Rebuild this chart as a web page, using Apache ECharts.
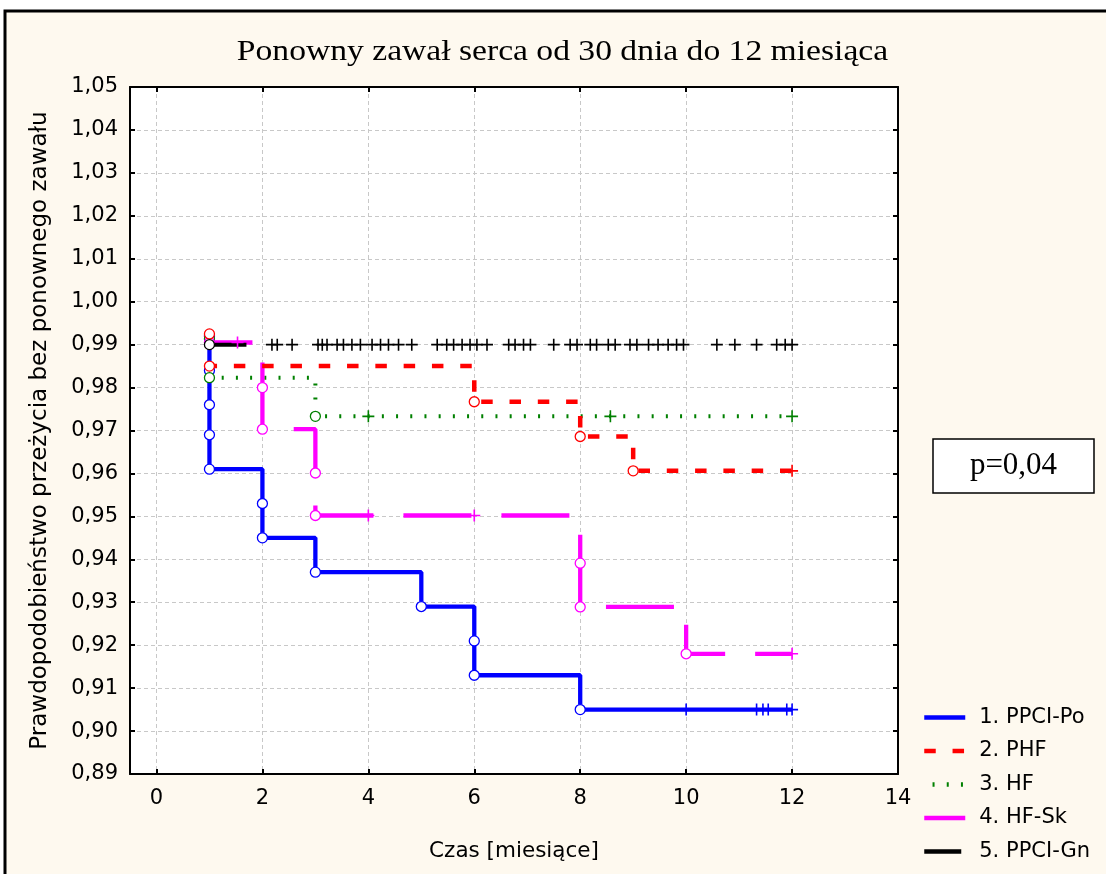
<!DOCTYPE html>
<html>
<head>
<meta charset="utf-8">
<script src="https://cdn.jsdelivr.net/npm/echarts@6/dist/echarts.min.js"></script>
<style>
html,body{margin:0;padding:0;background:#fff;}
#chart{width:1106px;height:874px;}
</style>
</head>
<body>
<div id="chart"></div>
<script>
// ---------------- DATA ----------------
const chartTitle = 'Ponowny zawał serca od 30 dnia do 12 miesiąca';
const xAxisName = 'Czas [miesiące]';
const yAxisName = 'Prawdopodobieństwo przeżycia bez ponownego zawału';
const pValueText = 'p=0,04';
const seriesNames = ['1. PPCI-Po', '2. PHF', '3. HF', '4. HF-Sk', '5. PPCI-Gn'];

// 1. PPCI-Po
const ppciPoTimes = [1, 1, 2, 3, 5, 6, 8, 12];
const ppciPoSurv = [0.992, 0.961, 0.945, 0.937, 0.929, 0.913, 0.905, 0.905];
const ppciPoEventTimes = [1, 1, 1, 1, 1, 2, 2, 3, 5, 6, 6, 8];
const ppciPoEventSurv = [0.992, 0.984, 0.976, 0.969, 0.961, 0.953, 0.945, 0.937, 0.929, 0.921, 0.913, 0.905];
const ppciPoCensorTimes = [10, 11.33, 11.45, 11.55, 11.9, 12];

// 2. PHF
const phfTimes = [1, 1, 6, 8, 9, 12];
const phfSurv = [0.9925, 0.985, 0.9767, 0.9686, 0.9606, 0.9606];
const phfEventTimes = [1, 1, 6, 8, 9];
const phfEventSurv = [0.9925, 0.985, 0.9767, 0.9686, 0.9606];
const phfCensorTimes = [12];

// 3. HF
const hfTimes = [1, 1, 3, 12];
const hfSurv = [0.9913, 0.9823, 0.9733, 0.9733];
const hfEventTimes = [1, 1, 3];
const hfEventSurv = [0.9913, 0.9823, 0.9733];
const hfCensorTimes = [4, 8.57, 12];

// 4. HF-Sk
const hfSkTimes = [1, 2, 3, 8, 10, 12];
const hfSkSurv = [0.9905, 0.9703, 0.9502, 0.9289, 0.918, 0.918];
const hfSkEventTimes = [1, 2, 2, 3, 3, 8, 8, 10];
const hfSkEventSurv = [0.9905, 0.980, 0.9703, 0.9601, 0.9502, 0.9391, 0.9289, 0.918];
const hfSkCensorTimes = [1.53, 4.0, 6.0, 12];

// 5. PPCI-Gn
const ppciGnTimes = [1, 12];
const ppciGnSurv = [0.99, 0.99];
const ppciGnEventTimes = [1];
const ppciGnEventSurv = [0.99];
const ppciGnCensorTimes = [2.18, 2.28, 2.56, 3.05, 3.13, 3.22, 3.41, 3.53, 3.69, 3.85, 4.07, 4.23, 4.38, 4.57,
  4.82, 5.3, 5.48, 5.61, 5.77, 5.92, 6.05, 6.24, 6.65, 6.77, 6.93, 7.06, 7.5, 7.81, 7.94, 8.19, 8.31, 8.53,
  8.66, 8.94, 9.07, 9.29, 9.47, 9.66, 9.82, 9.95, 10.58, 10.92, 11.33, 11.71, 11.87, 12];

// ---------------- HELPERS ----------------
function pairs(t, v) { return t.map((x, i) => [x, v[i]]); }
function survAt(times, surv, t) {
  let s = surv[0];
  for (let i = 0; i < times.length; i++) { if (times[i] <= t) s = surv[i]; }
  return s;
}
function censorPts(times, surv, ct) { return ct.map(t => [t, survAt(times, surv, t)]); }

const colors = ['#0000FF', '#FF0000', '#008000', '#FF00FF', '#000000'];
const dashes = ['solid', [11.5, 16.8], [2, 12.2], [68, 30], [37, 100000]];
const dashOffsets = [0, 0, 5.9, 25, 0];
const widths = [4.3, 4.5, 4, 4.3, 4];
const groups = [
  [ppciPoTimes, ppciPoSurv, ppciPoEventTimes, ppciPoEventSurv, ppciPoCensorTimes],
  [phfTimes, phfSurv, phfEventTimes, phfEventSurv, phfCensorTimes],
  [hfTimes, hfSurv, hfEventTimes, hfEventSurv, hfCensorTimes],
  [hfSkTimes, hfSkSurv, hfSkEventTimes, hfSkEventSurv, hfSkCensorTimes],
  [ppciGnTimes, ppciGnSurv, ppciGnEventTimes, ppciGnEventSurv, ppciGnCensorTimes]
];
const plusPath = 'path://M5.2,0h1.6v5.2h5.2v1.6h-5.2v5.2h-1.6v-5.2h-5.2v-1.6h5.2z';

const sans = "'DejaVu Sans', 'Liberation Sans', Arial, sans-serif";
const serif = "'Liberation Serif', 'Times New Roman', serif";

const series = [];
const drawOrder = [0, 2, 3, 1, 4];
drawOrder.forEach((k, idx) => {
  const g = groups[k];
  series.push({
    name: seriesNames[k], type: 'line', step: 'end', data: pairs(g[0], g[1]),
    symbol: 'none', showSymbol: false, z: 2 + idx * 0.01, animation: false,
    lineStyle: { color: colors[k], width: widths[k], type: dashes[k], dashOffset: dashOffsets[k], cap: 'butt' },
    itemStyle: { color: colors[k] }
  });
});
drawOrder.forEach((k, idx) => {
  const g = groups[k];
  series.push({
    name: 'ev' + k, type: 'scatter', data: pairs(g[2], g[3]), symbol: 'circle', symbolSize: 10,
    z: 4 + idx * 0.01, animation: false, silent: true,
    itemStyle: { color: '#ffffff', borderColor: colors[k], borderWidth: 1.3, opacity: 1 }
  });
  series.push({
    name: 'cs' + k, type: 'scatter', data: censorPts(g[0], g[1], g[4]), symbol: plusPath, symbolSize: 12,
    z: 5, animation: false, silent: true,
    itemStyle: { color: colors[k], opacity: 1 }
  });
});

const commaFmt = v => v.toFixed(2).replace('.', ',');

const option = {
  backgroundColor: 'transparent',
  animation: false,
  legend: {
    data: seriesNames, orient: 'vertical', left: 922, top: 707, itemWidth: 41, itemHeight: 14, itemGap: 12.5,
    padding: 0, selectedMode: false,
    itemStyle: { opacity: 0, color: 'transparent', borderWidth: 0 },
    lineStyle: { width: 4.5 },
    textStyle: { fontFamily: sans, fontSize: 21, color: '#000', padding: [0, 0, 0, 9] }
  },
  grid: { left: 130, right: 208, top: 87, bottom: 100, show: true, backgroundColor: '#ffffff', borderWidth: 0, containLabel: false },
  xAxis: [{
    type: 'value', min: -0.5, max: 14, splitNumber: 7, position: 'bottom',
    name: xAxisName, nameLocation: 'middle', nameGap: 66,
    nameTextStyle: { fontFamily: sans, fontSize: 21.5, color: '#000' },
    axisLine: { show: true, onZero: false, lineStyle: { color: '#000', width: 2 } },
    axisTick: { show: true, inside: true, length: 5, lineStyle: { color: '#000', width: 2 } },
    axisLabel: { fontFamily: sans, fontSize: 21, color: '#000', margin: 14, showMinLabel: false,
      formatter: v => (v < 0 ? '' : String(v)) },
    splitLine: { show: true, lineStyle: { color: '#c8c8c8', width: 1, type: [4, 3] } }
  }, {
    type: 'value', min: -0.5, max: 14, splitNumber: 7, position: 'top',
    axisLine: { show: true, onZero: false, lineStyle: { color: '#000', width: 2 } },
    axisTick: { show: true, inside: true, length: 5, lineStyle: { color: '#000', width: 2 } },
    axisLabel: { show: false }, splitLine: { show: false }
  }],
  yAxis: [{
    type: 'value', min: 0.89, max: 1.05, interval: 0.01, position: 'left',
    name: yAxisName, nameLocation: 'middle', nameGap: 78, nameRotate: 90,
    nameTextStyle: { fontFamily: sans, fontSize: 23, color: '#000' },
    axisLine: { show: true, onZero: false, lineStyle: { color: '#000', width: 2 } },
    axisTick: { show: true, inside: true, length: 5, lineStyle: { color: '#000', width: 2 } },
    axisLabel: { fontFamily: sans, fontSize: 21, color: '#000', margin: 12, formatter: commaFmt },
    splitLine: { show: true, lineStyle: { color: '#c8c8c8', width: 1, type: [4, 3] } }
  }, {
    type: 'value', min: 0.89, max: 1.05, interval: 0.01, position: 'right',
    axisLine: { show: true, onZero: false, lineStyle: { color: '#000', width: 2 } },
    axisTick: { show: true, inside: true, length: 5, lineStyle: { color: '#000', width: 2 } },
    axisLabel: { show: false }, splitLine: { show: false }
  }],
  graphic: [
    { type: 'rect', z: -100, silent: true, shape: { x: 5, y: 11, width: 1300, height: 1000 },
      style: { fill: '#FEF9EF', stroke: '#000', lineWidth: 3 } },
    { type: 'text', z: 10, silent: true, x: 562.5, y: 52, scaleX: 1.12, scaleY: 1,
      style: { text: chartTitle, fontFamily: serif, fontSize: 30, fill: '#000',
        textAlign: 'center', textVerticalAlign: 'middle', align: 'center', verticalAlign: 'middle' } },
    { type: 'rect', z: 10, silent: true, shape: { x: 933, y: 439, width: 161, height: 54 },
      style: { fill: '#ffffff', stroke: '#000', lineWidth: 1.5 } },
    { type: 'text', z: 11, silent: true, x: 1013.5, y: 466,
      style: { text: pValueText, fontFamily: serif, fontSize: 31, fill: '#000',
        textAlign: 'center', textVerticalAlign: 'middle', align: 'center', verticalAlign: 'middle' } }
  ],
  series: series
};

const chart = echarts.init(document.getElementById('chart'), null, { renderer: 'canvas' });
chart.setOption(option);
</script>
</body>
</html>
